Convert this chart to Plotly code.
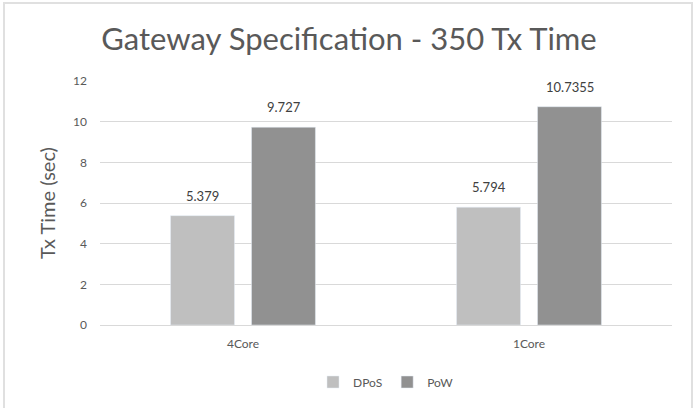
import plotly.graph_objects as go

categories = ["4Core", "1Core"]
dpos = [5.379, 5.794]
pow_ = [9.727, 10.7355]
dpos_labels = ["5.379", "5.794"]
pow_labels = ["9.727", "10.7355"]

W, H = 698, 408
L, R, T, B = 100, 26, 81, 83
pw, ph = W - L - R, H - T - B

def px2x(px):
    return (px - L) / pw

def px2y(py):
    return (H - B - py) / ph

fig = go.Figure()
fig.add_trace(go.Bar(name="DPoS", x=categories, y=dpos, marker_color="#bfbfbf"))
fig.add_trace(go.Bar(name="PoW", x=categories, y=pow_, marker_color="#919191"))

# data labels above bars
half = 40.5
for vals, labs, shift in [(dpos, dpos_labels, -half), (pow_, pow_labels, half)]:
    for c, v, t in zip(categories, vals, labs):
        fig.add_annotation(x=c, y=v, text=t, showarrow=False, xshift=shift, yshift=20,
                           yanchor="middle", font=dict(size=13, color="#404040"))

fig.add_shape(type="rect", xref="paper", yref="paper",
              x0=px2x(4), x1=px2x(692), y0=px2y(420), y1=px2y(3),
              line=dict(color="#e0e0e0", width=2), layer="below")

fig.update_layout(
    width=W, height=H,
    margin=dict(l=L, r=R, t=T, b=B),
    paper_bgcolor="white", plot_bgcolor="white",
    font=dict(family="Lato, Open Sans, sans-serif", color="#595959"),
    title=dict(text="Gateway Specification - 350 Tx Time", x=0.5, xanchor="center",
               y=1 - 39 / H, yanchor="middle",
               font=dict(size=31, color="#595959")),
    barmode="group", bargap=0.434, bargroupgap=0.21,
    showlegend=True,
    legend=dict(orientation="h", x=0.5, xanchor="center", y=px2y(382), yanchor="middle",
                font=dict(size=12, color="#595959"), itemwidth=30, traceorder="normal"),
    xaxis=dict(showgrid=False, showline=True, linecolor="#d9d9d9", linewidth=1,
               ticks="", ticklabelstandoff=8, tickfont=dict(size=12, color="#595959")),
    yaxis=dict(range=[0, 12], dtick=2, showgrid=True, gridcolor="#d9d9d9", gridwidth=1,
               zeroline=False, ticks="", ticklabelstandoff=12,
               tickfont=dict(size=12, color="#595959"),
               title=dict(text="Tx Time (sec)", font=dict(size=20, color="#595959"), standoff=12)),
)

fig.write_html("out.html")
